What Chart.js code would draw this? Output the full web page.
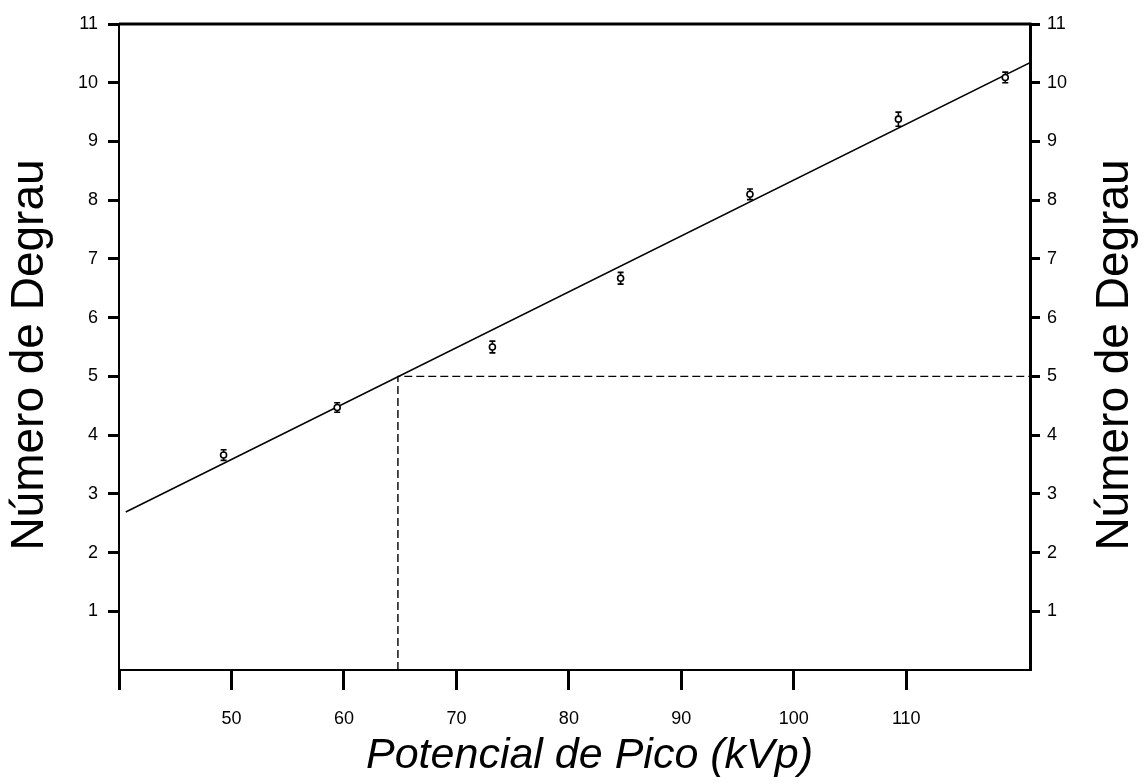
<!DOCTYPE html>
<html>
<head>
<meta charset="utf-8">
<title>Número de Degrau vs Potencial de Pico</title>
<script src="https://cdn.jsdelivr.net/npm/chart.js@4.4.1/dist/chart.umd.min.js"></script>
<style>
  html, body { margin: 0; padding: 0; background: #fff; }
  canvas { display: block; }
</style>
</head>
<body>
<canvas id="chart" width="1145" height="784"></canvas>
<script>
// measured points (kVp vs step number) with error bars
const kvp = [49.3, 59.4, 73.2, 84.6, 96.1, 109.3, 118.8];
const degrau = [3.66, 4.47, 5.50, 6.67, 8.10, 9.38, 10.09];
const degrauErr = [0.09, 0.08, 0.1, 0.1, 0.09, 0.12, 0.09];

// fitted line end points
const fitKvp = [40.6, 121];
const fitDegrau = [2.69, 10.34];

// dashed reading guide: step 5 -> ~65 kVp
const guideKvp = [64.8, 64.8, 121];
const guideDegrau = [0, 5, 5];

// axis ticks
const xTickValues = [40, 50, 60, 70, 80, 90, 100, 110];
const xTickLabels = ['', '50', '60', '70', '80', '90', '100', '110'];
const yTickValues = [1, 2, 3, 4, 5, 6, 7, 8, 9, 10, 11];

const yTitle = 'Número de Degrau';
const xTitle = 'Potencial de Pico (kVp)';

const toPoints = (xs, ys) => xs.map((x, i) => ({ x: x, y: ys[i] }));

const tickFont = { family: 'Liberation Sans, Arial, sans-serif', size: 18 };

// error bars behind the markers, titles + heavy top border on top
const extras = {
  id: 'extras',
  beforeDatasetsDraw(chart) {
    const ctx = chart.ctx;
    const xs = chart.scales.x, ys = chart.scales.y;
    ctx.save();
    ctx.strokeStyle = '#000';
    ctx.lineWidth = 1.6;
    kvp.forEach((x, i) => {
      const px = xs.getPixelForValue(x);
      const top = ys.getPixelForValue(degrau[i] + degrauErr[i]);
      const bot = ys.getPixelForValue(degrau[i] - degrauErr[i]);
      ctx.beginPath();
      ctx.moveTo(px, top); ctx.lineTo(px, bot);
      ctx.moveTo(px - 3, top); ctx.lineTo(px + 3, top);
      ctx.moveTo(px - 3, bot); ctx.lineTo(px + 3, bot);
      ctx.stroke();
    });
    ctx.restore();
  },
  afterDraw(chart) {
    const ctx = chart.ctx;
    const a = chart.chartArea;
    ctx.save();
    // heavy top frame line
    ctx.strokeStyle = '#000';
    ctx.lineWidth = 3;
    ctx.beginPath();
    ctx.moveTo(a.left, a.top);
    ctx.lineTo(a.right + 1.5, a.top);
    ctx.stroke();

    ctx.fillStyle = '#000';
    ctx.textAlign = 'center';
    ctx.textBaseline = 'middle';
    ctx.font = '46px "Liberation Sans", Arial, sans-serif';
    const midY = (a.top + a.bottom) / 2 + 8;
    [a.left - 89, a.right + 85].forEach(cx => {
      ctx.save();
      ctx.translate(cx, midY);
      ctx.rotate(-Math.PI / 2);
      ctx.fillText(yTitle, 0, 0);
      ctx.restore();
    });
    ctx.font = 'italic 43px "Liberation Sans", Arial, sans-serif';
    ctx.fillText(xTitle, (a.left + a.right) / 2 + 15, a.bottom + 86);
    ctx.restore();
  }
};

new Chart(document.getElementById('chart'), {
  type: 'scatter',
  data: {
    datasets: [
      {
        label: 'Medidas',
        data: toPoints(kvp, degrau),
        pointStyle: 'circle',
        pointRadius: 3,
        pointBorderWidth: 1.6,
        pointBorderColor: '#000',
        pointBackgroundColor: '#fff',
        showLine: false
      },
      {
        label: 'Ajuste',
        data: toPoints(fitKvp, fitDegrau),
        showLine: true,
        borderColor: '#000',
        borderWidth: 1.5,
        pointRadius: 0
      },
      {
        label: 'Guia',
        data: toPoints(guideKvp, guideDegrau),
        showLine: true,
        borderColor: '#000',
        borderWidth: 1.4,
        borderDash: [8, 4],
        pointRadius: 0
      }
    ]
  },
  options: {
    responsive: false,
    animation: false,
    layout: { padding: { top: 24, left: 0, right: 0, bottom: 0 } },
    plugins: {
      legend: { display: false },
      tooltip: { enabled: false }
    },
    scales: {
      x: {
        type: 'linear',
        position: 'bottom',
        min: 40,
        max: 121,
        afterFit: s => { s.height = 114; },
        afterBuildTicks: s => { s.ticks = xTickValues.map(v => ({ value: v })); },
        grid: { drawOnChartArea: false, drawTicks: true, tickLength: 20, tickWidth: 3, tickColor: '#000' },
        border: { display: true, color: '#000', width: 2 },
        ticks: {
          color: '#000',
          font: tickFont,
          padding: 18,
          maxRotation: 0,
          autoSkip: false,
          callback: (v, i) => xTickLabels[i]
        }
      },
      y: {
        type: 'linear',
        position: 'left',
        min: 0,
        max: 11,
        afterFit: s => { s.width = 119; },
        afterBuildTicks: s => { s.ticks = yTickValues.map(v => ({ value: v })); },
        grid: { drawOnChartArea: false, drawTicks: true, tickLength: 11, tickWidth: 3, tickColor: '#000' },
        border: { display: true, color: '#000', width: 2 },
        ticks: { color: '#000', font: tickFont, padding: 10, autoSkip: false }
      },
      y2: {
        type: 'linear',
        position: 'right',
        display: true,
        min: 0,
        max: 11,
        afterFit: s => { s.width = 115; },
        afterBuildTicks: s => { s.ticks = yTickValues.map(v => ({ value: v })); },
        grid: { drawOnChartArea: false, drawTicks: true, tickLength: 10, tickWidth: 3, tickColor: '#000' },
        border: { display: true, color: '#000', width: 3 },
        ticks: { color: '#000', font: tickFont, padding: 7, autoSkip: false }
      }
    }
  },
  plugins: [extras]
});
</script>
</body>
</html>
